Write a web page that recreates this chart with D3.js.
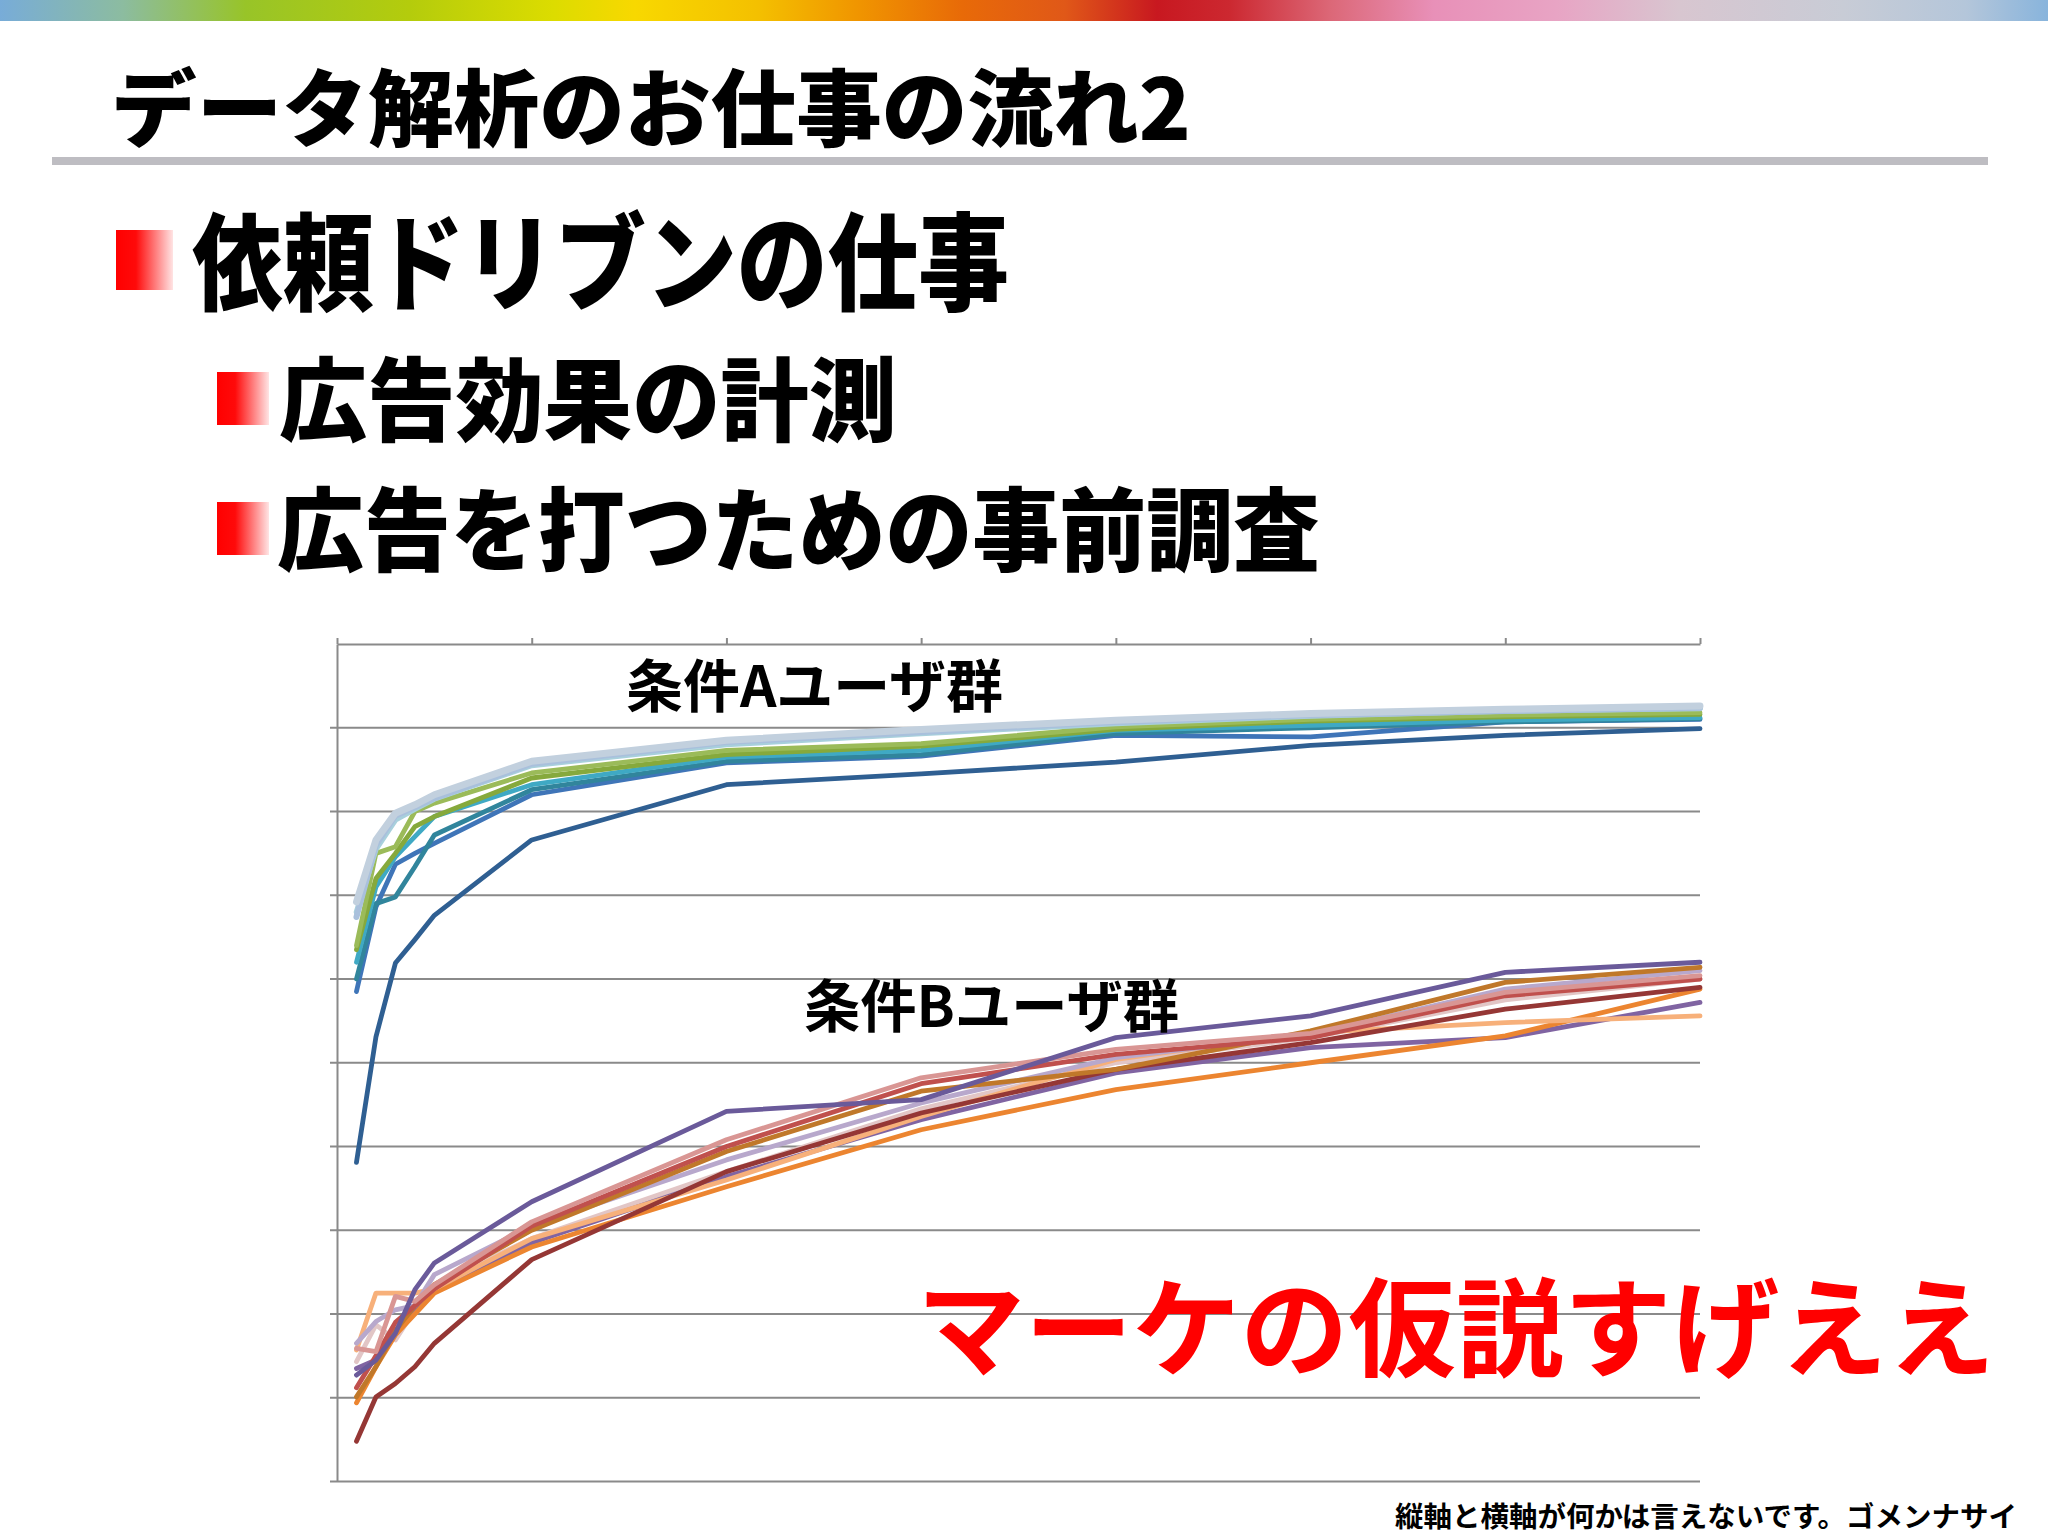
<!DOCTYPE html>
<html><head><meta charset="utf-8">
<script src="https://cdn.jsdelivr.net/npm/d3@7"></script>
<style>
html,body{margin:0;padding:0;background:#fff;}
svg{display:block;}
text{font-family:"Noto Sans CJK JP","Noto Sans",sans-serif;}
</style></head>
<body>
<script>
// ---------- data ----------
const xValues = [1, 2, 3, 4, 5, 10, 20, 30, 40, 50, 60, 70];
const xTicks = [0, 10, 20, 30, 40, 50, 60, 70];
const yTicks = [0, 10, 20, 30, 40, 50, 60, 70, 80, 90, 100];

// 条件A group
const a1 = [69.2, 76.6, 79.8, 80.8, 82.0, 86.0, 88.5, 89.8, 90.9, 91.7, 92.2, 92.6];
const a2 = [67.4, 76.0, 79.5, 80.5, 81.6, 85.7, 88.3, 89.5, 90.7, 91.5, 92.0, 92.4];
const a3 = [68.0, 75.5, 79.0, 80.3, 81.5, 85.5, 88.0, 89.3, 90.5, 91.4, 92.0, 92.3];
const a4 = [64.0, 75.0, 75.8, 80.0, 81.0, 84.6, 87.3, 88.1, 90.1, 91.0, 91.5, 91.8];
const a5 = [63.5, 72.0, 75.0, 78.2, 79.4, 84.0, 86.8, 87.8, 89.8, 90.8, 91.3, 91.6];
const a6 = [62.0, 71.0, 74.6, 77.0, 79.4, 83.2, 86.5, 87.3, 89.7, 90.3, 90.9, 91.2];
const a7 = [60.0, 69.0, 69.8, 73.4, 77.2, 82.6, 86.0, 86.8, 89.3, 90.0, 90.7, 91.1];
const a8 = [58.5, 68.6, 73.7, 75.0, 76.2, 82.0, 85.8, 86.6, 89.1, 88.9, 90.7, 91.0];
const a9 = [38.1, 53.1, 61.9, 64.7, 67.6, 76.6, 83.2, 84.5, 85.9, 87.9, 89.1, 89.9];
const seriesA = [a9, a8, a7, a6, a5, a4, a3, a2, a1];
const colorsA = ["#2f5f92", "#3f75b8", "#31859c", "#3fa9c4", "#86a93c", "#9bbb59", "#a8d0dc", "#a9c0dc", "#c2d0de"];
const widthsA = [4.8, 4.8, 4.8, 4.8, 4.8, 4.8, 5.5, 6, 7];

// 条件B group
const b1 = [12.7, 14.5, 17.7, 22.9, 26.1, 33.4, 44.2, 45.6, 53.0, 55.6, 60.8, 62.0];
const b2 = [15.9, 15.5, 22.1, 21.5, 23.5, 31.0, 40.8, 48.2, 51.6, 53.5, 58.4, 60.4];
const b3 = [11.2, 15.0, 19.0, 21.0, 23.0, 30.5, 40.0, 47.5, 51.0, 53.0, 58.0, 60.0];
const b4 = [10.1, 13.7, 18.0, 21.0, 23.5, 30.0, 39.4, 46.6, 49.2, 53.8, 59.6, 61.4];
const b5 = [16.5, 19.1, 20.5, 21.0, 24.7, 30.5, 38.4, 45.2, 50.6, 53.4, 58.8, 61.0];
const b6 = [4.8, 10.1, 11.7, 13.7, 16.5, 26.5, 37.0, 44.0, 49.2, 52.4, 56.4, 59.0];
const b7 = [15.7, 22.5, 22.5, 22.5, 23.0, 29.0, 36.0, 43.6, 50.4, 53.6, 54.8, 55.6];
const b8 = [9.4, 13.7, 17.5, 20.0, 22.5, 28.0, 35.2, 42.0, 46.8, 50.0, 53.2, 58.8];
const b9 = [13.5, 14.5, 18.0, 20.5, 23.0, 28.5, 36.4, 43.2, 48.8, 51.8, 53.0, 57.2];
const b10 = [14.3, 18.7, 16.9, 20.5, 23.5, 29.0, 37.0, 44.5, 50.0, 53.0, 57.5, 60.0];
const seriesB = [b10, b9, b8, b7, b6, b5, b4, b3, b2, b1];
const colorsB = ["#e2c6c6", "#8064a2", "#ec8530", "#f7b07a", "#953735", "#b8a8cc", "#c0782a", "#c0504d", "#d99694", "#6a5a9a"];

// texts
const titleText = "データ解析のお仕事の流れ2";
const bulletTexts = ["依頼ドリブンの仕事", "広告効果の計測", "広告を打つための事前調査"];
const groupLabels = ["条件Aユーザ群", "条件Bユーザ群"];
const commentText = "マーケの仮説すげええ";
const footerText = "縦軸と横軸が何かは言えないです。ゴメンナサイ";

// ---------- drawing ----------
const W = 2048, H = 1536;
const svg = d3.select("body").append("svg").attr("width", W).attr("height", H);
const defs = svg.append("defs");

// rainbow bar
const rb = defs.append("linearGradient").attr("id", "rainbow").attr("x1", "0").attr("x2", "1").attr("y1", "0").attr("y2", "0");
[[0, "#78acd8"], [0.06, "#8cbca0"], [0.12, "#98c428"], [0.2, "#b4cc0c"], [0.27, "#dcdc00"], [0.31, "#f8d800"], [0.37, "#f4c000"],
 [0.42, "#f09400"], [0.47, "#e86a08"], [0.52, "#e05818"], [0.565, "#c81820"], [0.6, "#cc2830"], [0.65, "#dc6878"],
 [0.7, "#e890b8"], [0.76, "#e8a4c4"], [0.82, "#d8c6d0"], [0.9, "#c8ccd6"], [0.96, "#b4c6da"], [1, "#88b4dc"]]
  .forEach(([o, c]) => rb.append("stop").attr("offset", o).attr("stop-color", c));
svg.append("rect").attr("x", 0).attr("y", 0).attr("width", W).attr("height", 21).attr("fill", "url(#rainbow)");

// bullet gradient
const bg = defs.append("linearGradient").attr("id", "bullet").attr("x1", "0").attr("x2", "1").attr("y1", "0").attr("y2", "0");
[[0, "#ff0000"], [0.35, "#ff0a0a"], [1, "#ffe4e4"]].forEach(([o, c]) => bg.append("stop").attr("offset", o).attr("stop-color", c));

function fitText(str, x, baseline, width, size, weight, fill) {
  return svg.append("text").attr("x", x).attr("y", baseline)
    .attr("font-size", size).attr("font-weight", weight).attr("fill", fill)
    .attr("textLength", width).attr("lengthAdjust", "spacingAndGlyphs").text(str);
}

// title
fitText(titleText, 111, 140, 1080, 84, 900, "#000");
svg.append("rect").attr("x", 52).attr("y", 157).attr("width", 1936).attr("height", 8).attr("fill", "#bebdc2");

// bullets
const bulletBoxes = [[116, 230, 57, 60], [217, 372, 52, 53], [217, 502, 52, 53]];
bulletBoxes.forEach(b => svg.append("rect").attr("x", b[0]).attr("y", b[1]).attr("width", b[2]).attr("height", b[3]).attr("fill", "url(#bullet)"));
fitText(bulletTexts[0], 192, 302, 817, 106, 900, "#000");
fitText(bulletTexts[1], 279, 434, 618, 91, 900, "#000");
fitText(bulletTexts[2], 277, 564, 1043, 91, 900, "#000");

// chart
const x = d3.scaleLinear().domain([0, 70]).range([337, 1700]);
const y = d3.scaleLinear().domain([0, 100]).range([1481.5, 644]);
const gridColor = "#8a8a8a";

// gridlines
svg.append("g").selectAll("line").data(yTicks.filter(d => d < 100)).join("line")
  .attr("x1", x(0) - 7).attr("x2", x(70)).attr("y1", d => y(d)).attr("y2", d => y(d))
  .attr("stroke", gridColor).attr("stroke-width", 2);

// top axis with upward ticks
const xAxis = d3.axisTop(x).tickValues(xTicks).tickSize(6).tickSizeOuter(0).tickFormat(() => "");
const gx = svg.append("g").attr("transform", `translate(0,${y(100)})`).call(xAxis);
gx.selectAll("path,line").attr("stroke", gridColor).attr("stroke-width", 2);

// left axis
const yAxis = d3.axisLeft(y).tickValues([]).tickSizeOuter(0);
const gy = svg.append("g").attr("transform", `translate(${x(0)},0)`).call(yAxis);
gy.selectAll("path").attr("stroke", gridColor).attr("stroke-width", 2);

const line = d3.line().x((d, i) => x(xValues[i])).y(d => y(d));
const gLines = svg.append("g").attr("fill", "none").attr("stroke-linejoin", "round").attr("stroke-linecap", "round");
seriesB.forEach((s, i) => gLines.append("path").attr("d", line(s)).attr("stroke", colorsB[i]).attr("stroke-width", 4.8));
seriesA.forEach((s, i) => gLines.append("path").attr("d", line(s)).attr("stroke", colorsA[i]).attr("stroke-width", widthsA[i]));

// group labels
fitText(groupLabels[0], 626, 707, 377, 57, 700, "#000");
fitText(groupLabels[1], 804, 1027, 375, 57, 700, "#000");

// comment
fitText(commentText, 917, 1368, 1078, 107, 700, "#ff0000");

// footer
fitText(footerText, 1395, 1527, 622, 28, 700, "#000");
</script>
</body></html>
